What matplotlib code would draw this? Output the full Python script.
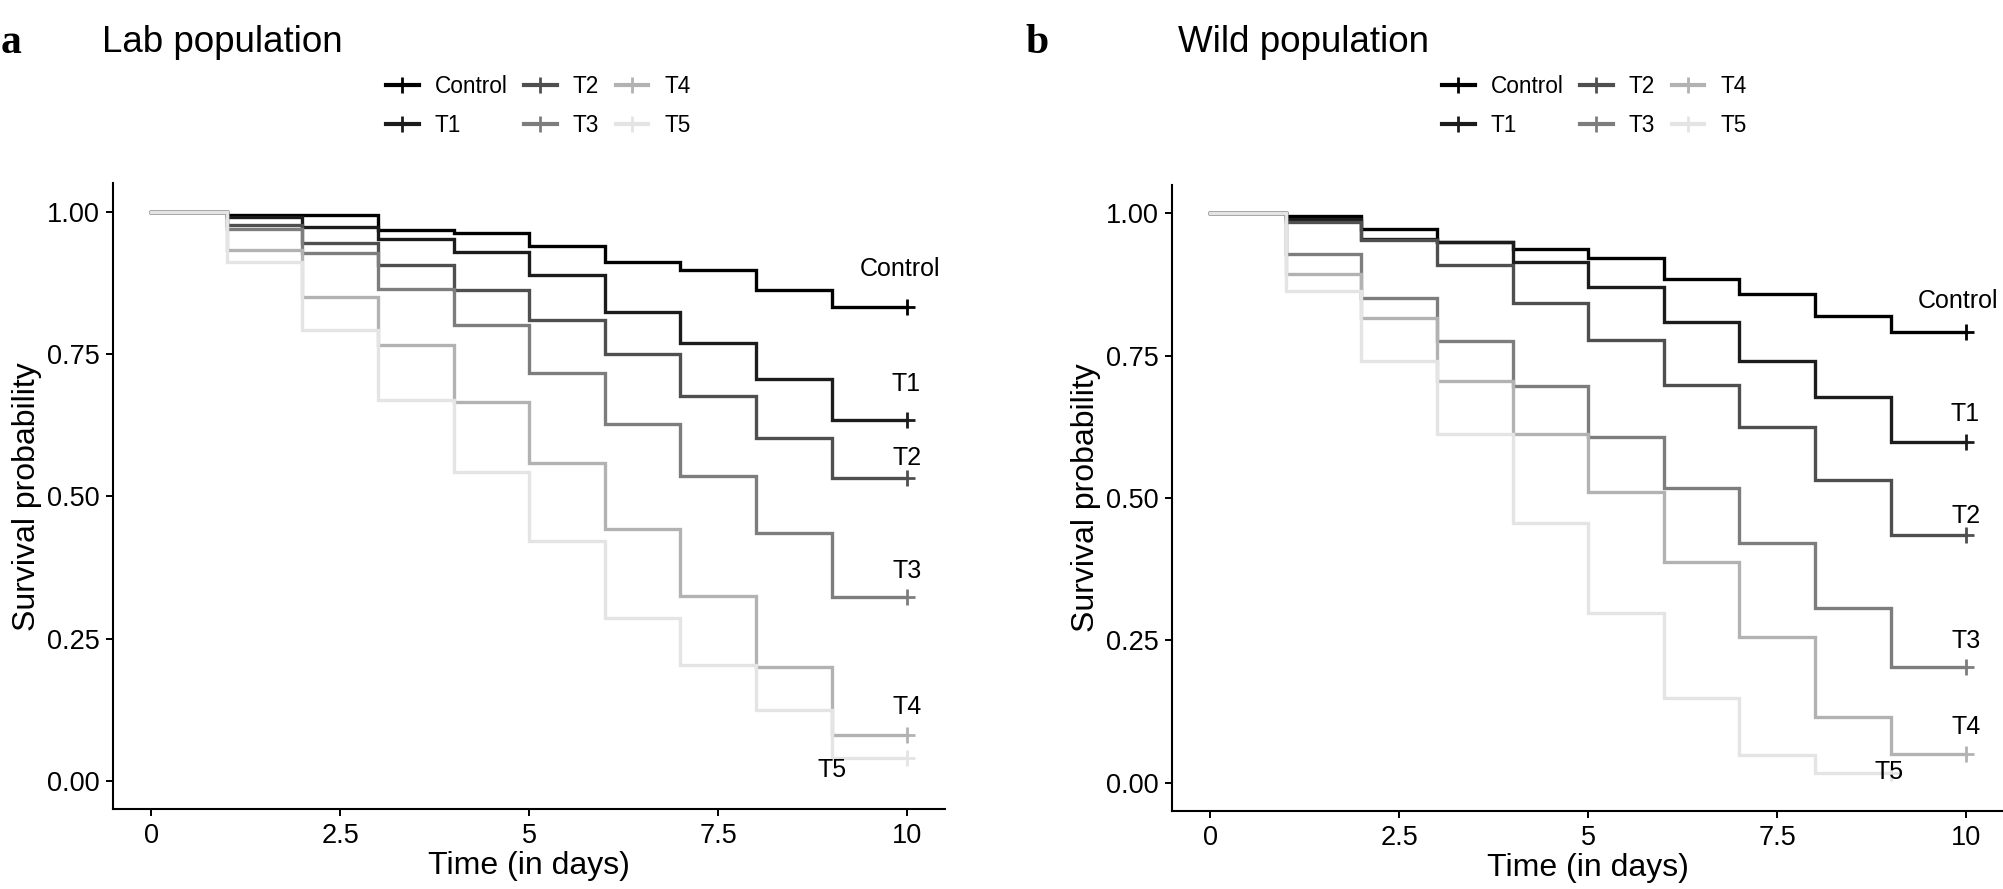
import matplotlib
matplotlib.use("Agg")
import matplotlib.pyplot as plt
from matplotlib.lines import Line2D
from matplotlib.ticker import FormatStrFormatter

plt.rcParams["font.family"] = ["Liberation Sans", "DejaVu Sans"]

# Kaplan-Meier style survival estimates, one value per day interval [d, d+1)
GROUPS = ["Control", "T1", "T2", "T3", "T4", "T5"]
COLORS = ["#000000", "#1c1c1c", "#4f4f4f", "#7d7d7d", "#b2b2b2", "#e4e4e4"]

LAB_CONTROL = [1.0, 0.995, 0.994, 0.968, 0.962, 0.939, 0.912, 0.897, 0.863, 0.833]
LAB_T1 = [1.0, 0.990, 0.974, 0.953, 0.930, 0.889, 0.824, 0.769, 0.706, 0.634]
LAB_T2 = [1.0, 0.977, 0.945, 0.906, 0.863, 0.809, 0.750, 0.676, 0.602, 0.532]
LAB_T3 = [1.0, 0.970, 0.927, 0.864, 0.801, 0.717, 0.627, 0.536, 0.436, 0.323]
LAB_T4 = [1.0, 0.933, 0.851, 0.765, 0.666, 0.558, 0.442, 0.325, 0.200, 0.081]
LAB_T5 = [1.0, 0.912, 0.792, 0.669, 0.543, 0.422, 0.286, 0.204, 0.124, 0.040]

WILD_CONTROL = [1.0, 0.995, 0.972, 0.950, 0.937, 0.921, 0.884, 0.858, 0.820, 0.792]
WILD_T1 = [1.0, 0.990, 0.955, 0.950, 0.915, 0.870, 0.809, 0.741, 0.677, 0.599]
WILD_T2 = [1.0, 0.985, 0.953, 0.909, 0.843, 0.778, 0.699, 0.625, 0.532, 0.435]
WILD_T3 = [1.0, 0.929, 0.852, 0.776, 0.696, 0.608, 0.517, 0.421, 0.306, 0.203]
WILD_T4 = [1.0, 0.893, 0.817, 0.706, 0.613, 0.511, 0.388, 0.256, 0.116, 0.050]
WILD_T5 = [1.0, 0.864, 0.741, 0.612, 0.456, 0.298, 0.148, 0.049, 0.0165]

# end-of-curve text labels (x in days, y in survival probability)
LAB_LABEL_X = [9.90, 9.99, 10.0, 10.0, 10.0, 9.0]
LAB_LABEL_Y = [0.900, 0.698, 0.568, 0.369, 0.129, 0.019]
WILD_LABEL_X = [9.89, 9.98, 10.0, 10.0, 10.0, 8.98]
WILD_LABEL_Y = [0.847, 0.648, 0.469, 0.249, 0.097, 0.018]

X_TICKS = [0, 2.5, 5, 7.5, 10]
X_TICK_LABELS = ["0", "2.5", "5", "7.5", "10"]
Y_TICKS = [0, 0.25, 0.5, 0.75, 1.0]

W, H = 2003, 889


def draw_panel(ax, curves, label_x, label_y):
    for name, vals, color, lx, ly in zip(GROUPS, curves, COLORS, label_x, label_y):
        days = list(range(len(vals) + 1))
        ax.step(days, vals + [vals[-1]], where="post", color=color, lw=2.4,
                solid_joinstyle="miter")
        ax.plot(days[-1], vals[-1], marker="+", ms=11, mew=2, color=color)
        ax.text(lx, ly, name, ha="center", va="center", fontsize=18, color="black")

    ax.set_xlim(-0.5, 10.5)
    ax.set_ylim(-0.05, 1.05)
    ax.set_xticks(X_TICKS)
    ax.set_xticklabels(X_TICK_LABELS)
    ax.set_yticks(Y_TICKS)
    ax.yaxis.set_major_formatter(FormatStrFormatter("%.2f"))
    ax.tick_params(labelsize=19.5, length=5, width=1.4, pad=5, colors="black")
    for side in ["top", "right"]:
        ax.spines[side].set_visible(False)
    for side in ["left", "bottom"]:
        ax.spines[side].set_linewidth(1.5)
    ax.set_xlabel("Time (in days)", fontsize=23)
    ax.set_ylabel("Survival probability", fontsize=23)
    ax.xaxis.set_label_coords(0.5, -0.067)
    ax.yaxis.set_label_coords(-0.086, 0.5)


def add_legend(fig, x_px):
    handles = [Line2D([0], [0], color=c, lw=3, marker="+", ms=12, mew=2)
               for c in COLORS]
    fig.legend(handles, GROUPS, ncol=3, loc="upper left",
               bbox_to_anchor=(x_px / W, 1 - 75 / H), frameon=False,
               fontsize=16.3, handlelength=1.44, handletextpad=0.72,
               columnspacing=0.72, labelspacing=0.69, borderpad=0,
               borderaxespad=0)


fig = plt.figure(figsize=(W / 100, H / 100), dpi=100)
ax_lab = fig.add_axes([113.3 / W, 1 - 809.3 / H, 831.7 / W, 626 / H])
ax_wild = fig.add_axes([1172.3 / W, 1 - 811 / H, 831.7 / W, 626 / H])

draw_panel(ax_lab, [LAB_CONTROL, LAB_T1, LAB_T2, LAB_T3, LAB_T4, LAB_T5],
           LAB_LABEL_X, LAB_LABEL_Y)
draw_panel(ax_wild, [WILD_CONTROL, WILD_T1, WILD_T2, WILD_T3, WILD_T4, WILD_T5],
           WILD_LABEL_X, WILD_LABEL_Y)

fig.text(1 / W, 1 - 53 / H, "a", fontsize=30, fontweight="bold",
         family="Liberation Serif", va="baseline")
fig.text(1025 / W, 1 - 53 / H, "b", fontsize=30, fontweight="bold",
         family="Liberation Serif", va="baseline")
fig.text(102 / W, 1 - 52 / H, "Lab population", fontsize=26.5, va="baseline")
fig.text(1178 / W, 1 - 52 / H, "Wild population", fontsize=26.5, va="baseline")

add_legend(fig, 386)
add_legend(fig, 1442)

fig.savefig("out.png", dpi=100)
